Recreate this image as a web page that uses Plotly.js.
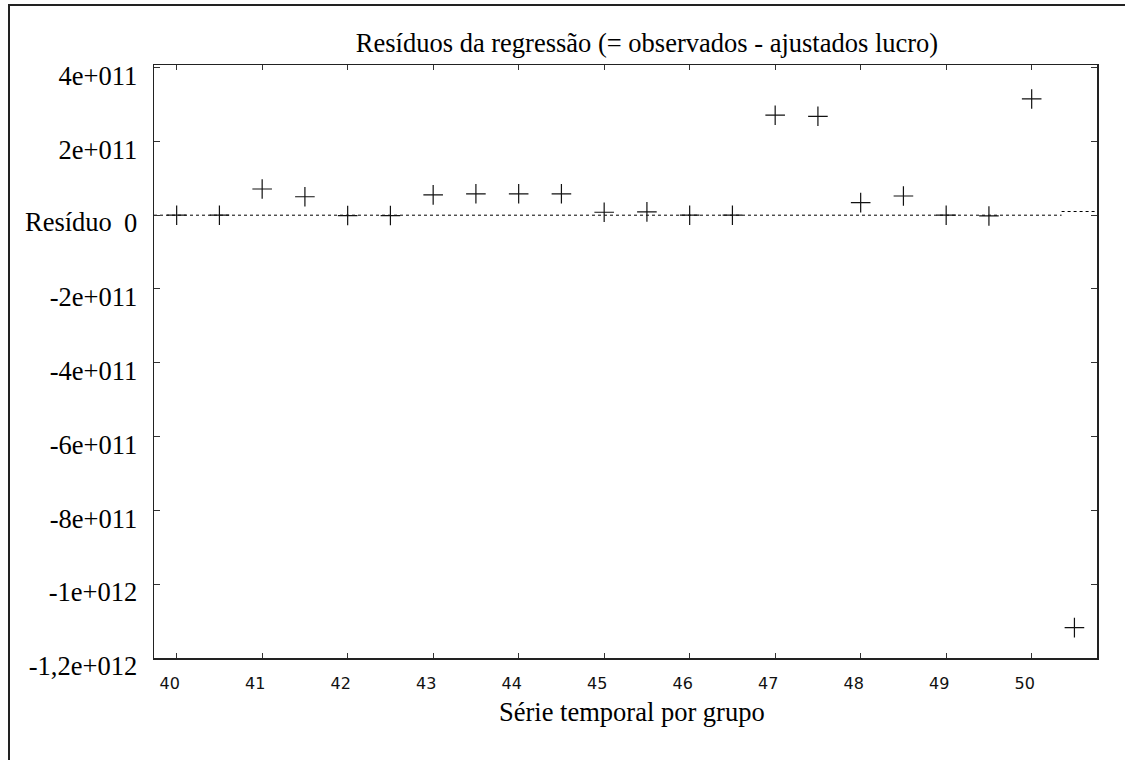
<!DOCTYPE html>
<html>
<head>
<meta charset="utf-8">
<script src="https://cdn.plot.ly/plotly-3.0.1.min.js"></script>
<style>
  html, body { margin: 0; padding: 0; background: #fff; }
  #wrap { position: relative; width: 1125px; height: 760px; overflow: hidden; }
  #frame { position: absolute; left: 8px; top: 4px; width: 1200px; height: 900px;
           border-left: 2px solid #222; border-top: 2px solid #222; pointer-events: none; }
  #chart { position: absolute; left: 0; top: 0; width: 1125px; height: 760px; }
</style>
</head>
<body>
<div id="wrap">
  <div id="chart"></div>
  <div id="frame"></div>
</div>
<script>
// Data
const seriesX = [40, 40.5, 41, 41.5, 42, 42.5, 43, 43.5, 44, 44.5, 45, 45.5,
                 46, 46.5, 47, 47.5, 48, 48.5, 49, 49.5, 50, 50.5];
const residuals = [0, 0, 7.1e10, 5.0e10, -1e9, -1e9, 5.5e10, 5.8e10, 5.8e10, 5.8e10, 8e9, 9e9,
                   0, 0, 2.71e11, 2.68e11, 3.4e10, 5.2e10, 0, -2e9, 3.15e11, -1.1176e12];
const zeroLineX = [39.735, 50.35];
const zeroLineY = [0, 0];
const zeroLineTailX = [50.35, 50.764];
const zeroLineTailY = [1e10, 1e10];
const xTickVals = [40, 41, 42, 43, 44, 45, 46, 47, 48, 49, 50];
const xTickText = ["40", "41", "42", "43", "44", "45", "46", "47", "48", "49", "50"];
const yTickVals = [4e11, 2e11, 0, -2e11, -4e11, -6e11, -8e11, -1e12, -1.2e12];
const yTickText = ["4e+011", "2e+011", "0", "-2e+011", "-4e+011", "-6e+011", "-8e+011", "-1e+012", "-1,2e+012"];

const chartTitle = "Resíduos da regressão (= observados - ajustados lucro)";
const xTitle = "Série temporal por grupo";
const yTitle = "Resíduo";

const serif = "Liberation Serif";
const textSize = 26.5;

const traces = [
  {
    x: zeroLineX, y: zeroLineY, type: "scatter", mode: "lines",
    line: { color: "#000", width: 1, dash: "3px,3px" }, hoverinfo: "skip", showlegend: false
  },
  {
    x: zeroLineTailX, y: zeroLineTailY, type: "scatter", mode: "lines",
    line: { color: "#000", width: 1, dash: "3px,3px" }, hoverinfo: "skip", showlegend: false
  },
  {
    x: seriesX, y: residuals, type: "scatter", mode: "markers",
    marker: { symbol: "cross-thin-open", size: 14, color: "#111", line: { color: "#111", width: 1.2 } },
    showlegend: false
  }
];

const layout = {
  width: 1125, height: 760,
  margin: { l: 154, r: 28, t: 65, b: 102, pad: 0 },
  paper_bgcolor: "#fff", plot_bgcolor: "#fff",
  showlegend: false,
  font: { family: serif },
  title: {
    text: chartTitle,
    font: { family: serif, size: textSize, color: "#000" },
    xref: "container", yref: "container",
    x: 647 / 1125, xanchor: "center",
    y: 1 - 43 / 760, yanchor: "middle"
  },
  xaxis: {
    range: [39.735, 50.764],
    tickvals: xTickVals, ticktext: xTickText,
    ticks: "inside", ticklen: 5, tickwidth: 1, tickcolor: "#333",
    showline: true, linecolor: "#222", linewidth: 1.5, mirror: "ticks",
    showgrid: false, zeroline: false,
    tickfont: { family: "DejaVu Sans", size: 16, color: "#111" },
    ticklabelshift: -7, ticklabelstandoff: 10
  },
  yaxis: {
    range: [-1.2e12, 4.07e11],
    tickvals: yTickVals, ticktext: yTickText,
    ticks: "inside", ticklen: 6, tickwidth: 1, tickcolor: "#333",
    showline: true, linecolor: "#222", linewidth: 1.5, mirror: "ticks",
    showgrid: false, zeroline: false,
    tickfont: { family: serif, size: textSize, color: "#000" },
    ticklabelshift: 8, ticklabelstandoff: 10
  },
  annotations: [
    {
      text: xTitle, xref: "paper", yref: "paper",
      x: (632 - 154) / (1125 - 154 - 28), y: -(712 - 658) / (658 - 65),
      xanchor: "center", yanchor: "middle", showarrow: false,
      font: { family: serif, size: textSize, color: "#000" }
    },
    {
      text: yTitle, xref: "paper", yref: "paper",
      x: (23 - 154) / (1125 - 154 - 28), y: (658 - 222) / (658 - 65),
      xanchor: "left", yanchor: "middle", showarrow: false,
      font: { family: serif, size: textSize, color: "#000" }
    }
  ]
};

Plotly.newPlot("chart", traces, layout, { displayModeBar: false, staticPlot: true });
</script>
</body>
</html>
